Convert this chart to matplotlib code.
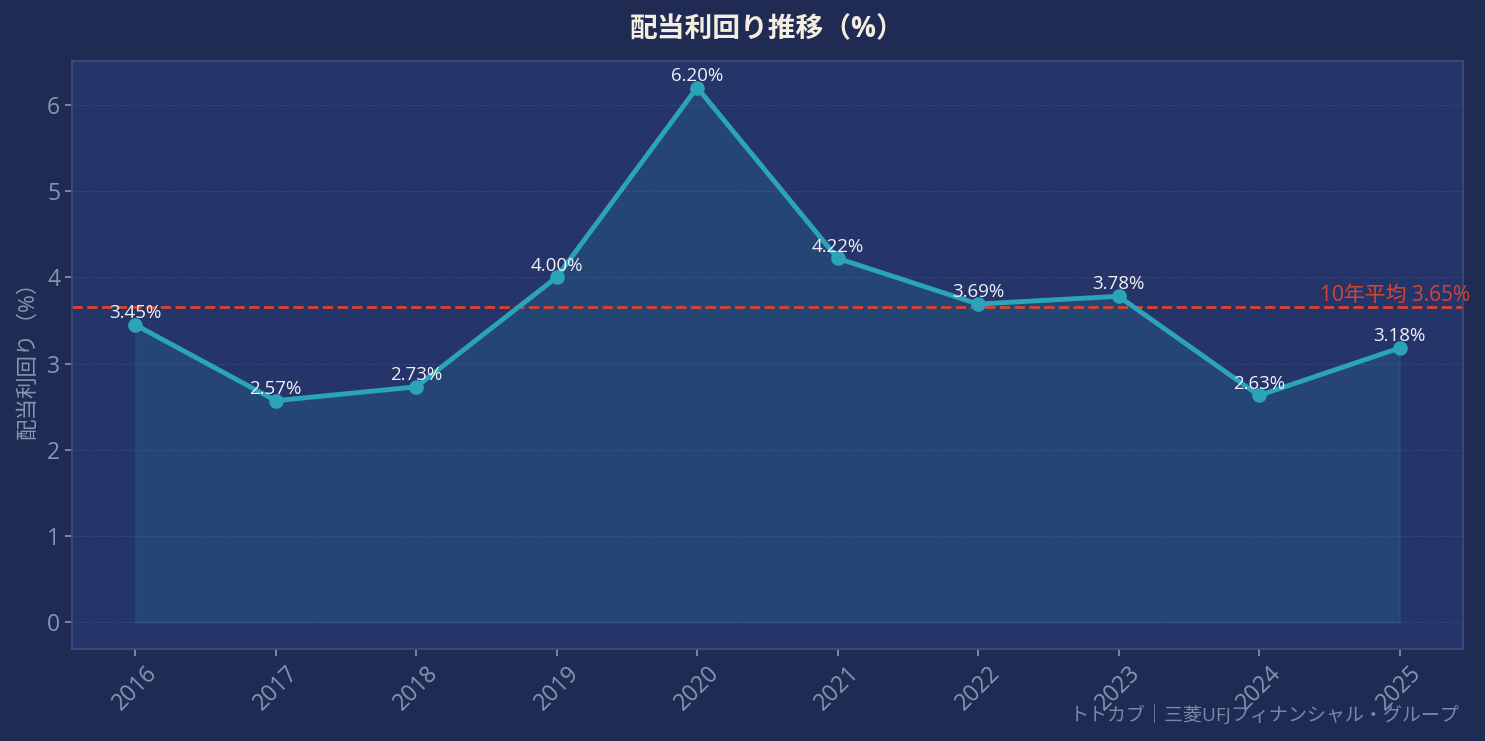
import matplotlib.pyplot as plt

plt.rcParams["font.family"] = ["Open Sans", "Noto Sans CJK JP", "DejaVu Sans"]

years = ["2016", "2017", "2018", "2019", "2020", "2021", "2022", "2023", "2024", "2025"]
yields = [3.45, 2.57, 2.73, 4.00, 6.20, 4.22, 3.69, 3.78, 2.63, 3.18]
avg_yield = 3.65

title = "配当利回り推移（%）"
ylabel = "配当利回り（%）"
avg_label = f"10年平均 {avg_yield:.2f}%"
credit = "トトカブ｜三菱UFJフィナンシャル・グループ"

fig_bg = "#1f2b53"
ax_bg = "#25356a"
line_c = "#2ba3b8"
avg_c = "#d9442e"
tick_c = "#8796b4"

fig, ax = plt.subplots(figsize=(14.85, 7.41), dpi=100)
fig.patch.set_facecolor(fig_bg)
ax.set_facecolor(ax_bg)
fig.subplots_adjust(left=0.0485, right=0.985, top=0.918, bottom=0.124)

x = list(range(len(years)))
ax.fill_between(x, yields, 0, color=line_c, alpha=0.15, linewidth=1)
ax.plot(x, yields, color=line_c, linewidth=3.5, marker="o", markersize=9.5, zorder=3)
ax.axhline(avg_yield, color=avg_c, linestyle="--", linewidth=2, zorder=2)
ax.text(len(years) - 0.5, avg_yield + 0.02, avg_label, color=avg_c, fontsize=15,
        ha="right", va="bottom")

for xi, v in zip(x, yields):
    ax.annotate(f"{v:.2f}%", (xi, v), xytext=(0, 2), textcoords="offset points",
                ha="center", va="bottom", color="#f0f0f5", fontsize=13.5, zorder=4)

ax.set_xticks(x)
ax.set_xticklabels(years, rotation=45)
ax.tick_params(colors=tick_c, labelsize=16.5, length=5, width=1.2)
ax.yaxis.grid(True, linestyle="--", color="#3a4a7a", linewidth=0.8, alpha=0.7)
ax.set_axisbelow(True)
for s in ax.spines.values():
    s.set_color("#3e4f7c")
    s.set_linewidth(1.2)

ax.set_ylabel(ylabel, color=tick_c, fontsize=15.5, labelpad=6)
ax.set_title(title, color="#f4eee0", fontsize=20, fontweight="bold", pad=17)
fig.text(0.983, 0.022, credit, color="#7a88a8", fontsize=13.7, ha="right", va="bottom")

fig.savefig("out.png", facecolor=fig_bg)
